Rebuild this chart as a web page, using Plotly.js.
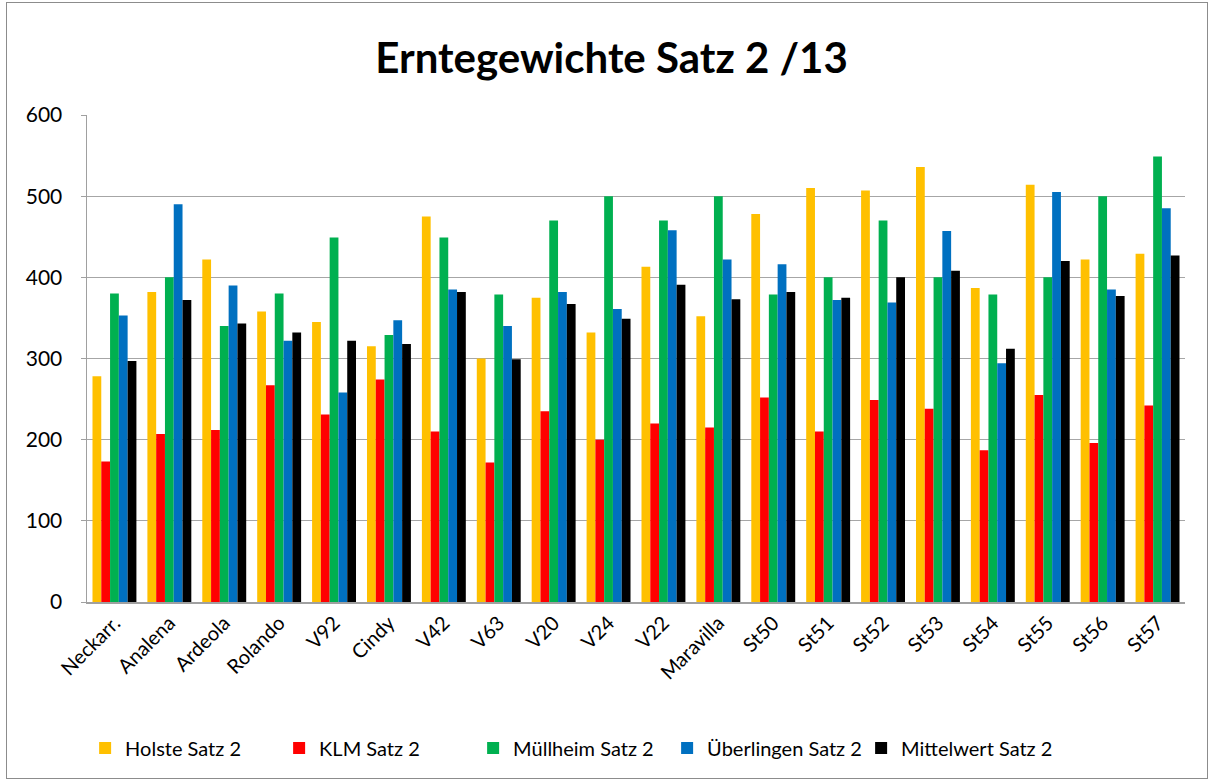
<!DOCTYPE html>
<html>
<head>
<meta charset="utf-8">
<script src="https://cdn.plot.ly/plotly-3.0.1.min.js"></script>
<style>
html,body{margin:0;padding:0;background:#fff;}
#chart{width:1211px;height:782px;}
#frame{position:absolute;left:6px;top:2px;width:1200px;height:775px;border:1.5px solid #8c8c8c;pointer-events:none;}
</style>
</head>
<body>
<div id="chart"></div>
<div id="frame"></div>
<script>
const categories = ["Neckarr.","Analena","Ardeola","Rolando","V92","Cindy","V42","V63","V20","V24","V22","Maravilla","St50","St51","St52","St53","St54","St55","St56","St57"];
const holste     = [278,382,422,358,345,315,475,300,375,332,413,352,478,510,507,536,387,514,422,429];
const klm        = [173,207,212,267,231,274,210,172,235,200,220,215,252,210,249,238,187,255,196,242];
const muellheim  = [380,400,340,380,449,329,449,379,470,500,470,500,379,400,470,400,379,400,500,549];
const ueberlingen= [353,490,390,322,258,347,385,340,382,361,458,422,416,372,369,457,294,505,385,485];
const mittelwert = [297,372,343,332,322,318,382,299,367,349,391,373,382,375,400,408,312,420,377,427];
const seriesNames = ["Holste Satz 2","KLM Satz 2","Müllheim Satz 2","Überlingen Satz 2","Mittelwert Satz 2"];
const seriesColors = ["#FFC000","#FF0000","#00B050","#0070C0","#000000"];
const seriesData = [holste, klm, muellheim, ueberlingen, mittelwert];

const traces = seriesData.map((vals, i) => ({
  type: "bar",
  name: seriesNames[i],
  x: categories,
  y: vals,
  marker: {color: seriesColors[i], line: {width: 0}},
  hoverinfo: "x+y+name"
}));

const font = "Lato, 'Open Sans', sans-serif";
const layout = {
  width: 1211, height: 782,
  paper_bgcolor: "#fff", plot_bgcolor: "#fff",
  margin: {l: 87, r: 26, t: 115, b: 180},
  barmode: "group",
  bargap: 0.2,
  bargroupgap: 0,
  title: {text: "<b>Erntegewichte Satz 2 /13</b>", x: 0.505, xanchor: "center", y: 0.925, yanchor: "middle",
          font: {family: font, size: 42, color: "#000"}},
  font: {family: font, size: 20, color: "#000"},
  xaxis: {
    type: "category",
    tickangle: -45,
    showline: true, linecolor: "#a0a0a0", linewidth: 1.5,
    showgrid: false, ticks: "",
    tickfont: {family: font, size: 20, color: "#000"}
  },
  yaxis: {
    range: [0, 600],
    dtick: 100,
    showline: true, linecolor: "#a0a0a0", linewidth: 1.5,
    showgrid: true, gridcolor: "#a6a6a6", gridwidth: 1.2,
    ticks: "outside", ticklen: 5, tickcolor: "#a0a0a0",
    ticklabelstandoff: 14,
    zeroline: false,
    tickfont: {family: font, size: 21, color: "#000"}
  },
  legend: {
    orientation: "h",
    x: 0.44, xanchor: "center",
    y: -0.30, yanchor: "middle",
    font: {family: font, size: 20, color: "#000"},
    itemwidth: 30,
    entrywidth: 149,
    traceorder: "normal"
  },
  showlegend: true
};

Plotly.newPlot("chart", traces, layout, {displayModeBar: false, staticPlot: true});
</script>
</body>
</html>
